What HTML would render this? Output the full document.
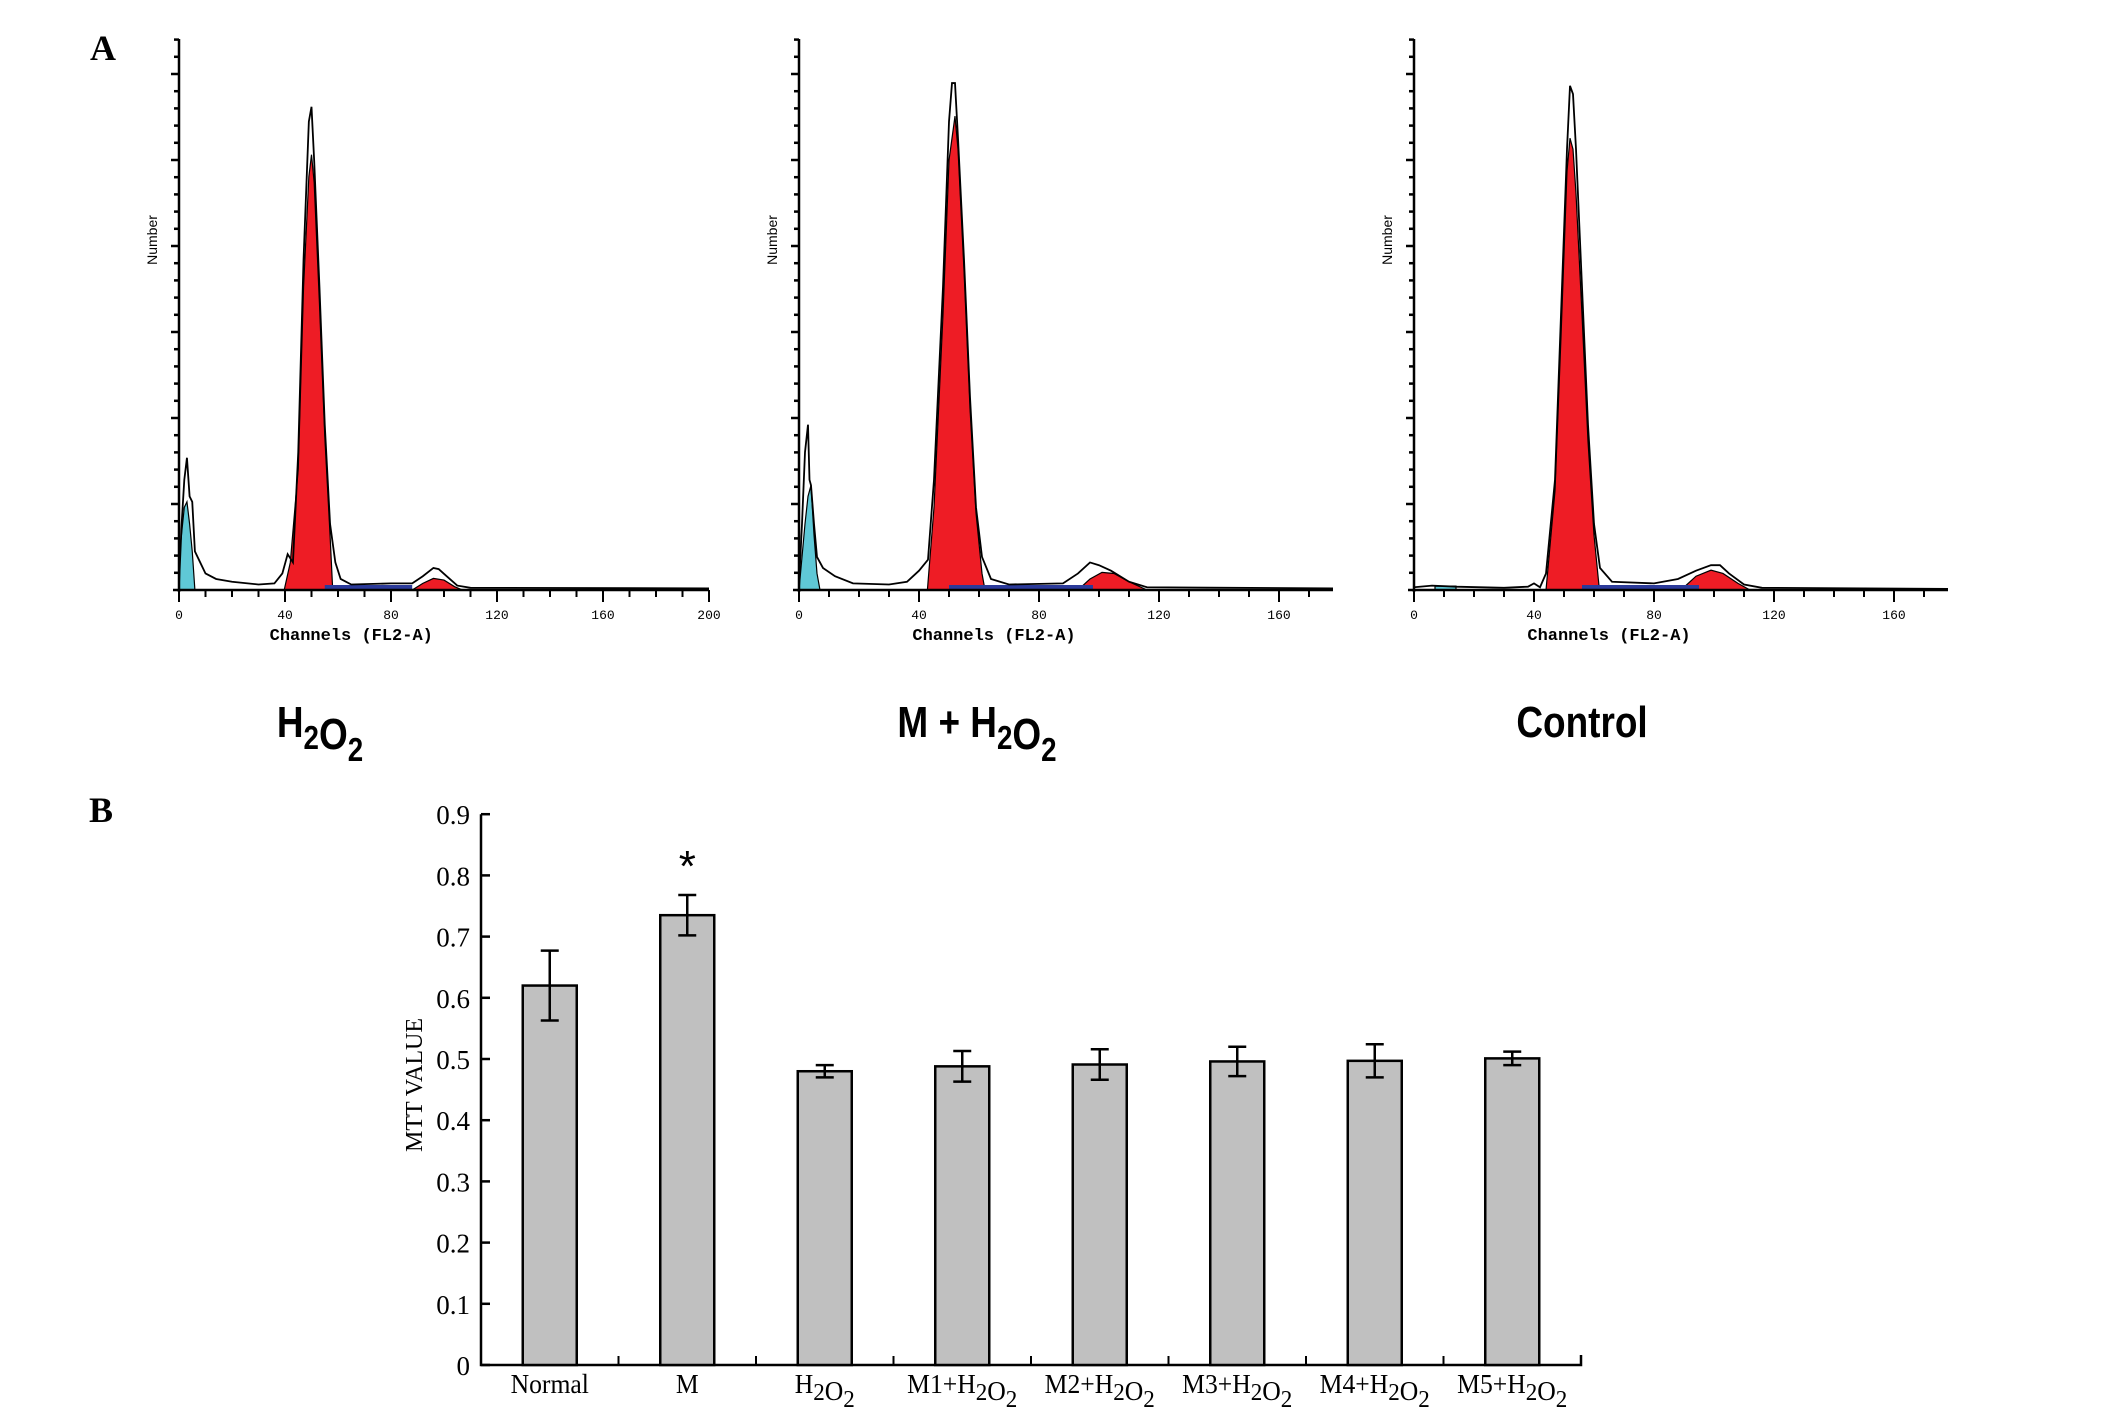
<!DOCTYPE html>
<html><head><meta charset="utf-8"><style>
html,body{margin:0;padding:0;background:#fff;}
svg{display:block;}
</style></head><body>
<svg id="fig" xmlns="http://www.w3.org/2000/svg" width="2126" height="1419" viewBox="0 0 2126 1419">
<rect width="2126" height="1419" fill="#fff"/>
<text x="90" y="60" font-family="Liberation Serif, serif" font-weight="bold" font-size="36">A</text>
<text x="89" y="822" font-family="Liberation Serif, serif" font-weight="bold" font-size="36">B</text>
<g id="hist"></g>
<g id="bars"></g>
</svg>
<script>
// ---------- Panel A data (channel, fraction of axis height) ----------
const h1Outline=[[0,0.01],[1,0.12],[2,0.2],[3,0.24],[4,0.17],[5,0.16],[6,0.07],[8,0.05],[10,0.03],[14,0.02],[20,0.015],[30,0.01],[36,0.012],[39,0.03],[41,0.065],[43,0.05],[45,0.25],[47,0.6],[49,0.85],[50,0.877],[51,0.78],[53,0.55],[55,0.3],[57,0.12],[59,0.05],[61,0.02],[65,0.01],[80,0.012],[88,0.012],[92,0.025],[96,0.04],[98,0.038],[101,0.025],[105,0.008],[110,0.004],[200,0.003]];
const h1G1=[[39.7,0],[42,0.05],[45,0.22],[47,0.55],[49,0.75],[50,0.79],[51,0.74],[53,0.52],[55,0.28],[57,0.1],[58,0],[58,0]];
const h1G2=[[88,0],[92,0.012],[96,0.021],[100,0.018],[104,0.006],[107,0]];
const h1Apo=[[0,0],[0.5,0.08],[2,0.15],[3,0.16],[4,0.12],[5,0.07],[6,0]];
const h1S=[55,88];
const h2Outline=[[0,0.01],[1,0.12],[2,0.25],[3,0.3],[3.5,0.2],[4,0.19],[5,0.12],[6,0.06],[8,0.04],[12,0.025],[18,0.012],[30,0.01],[36,0.015],[40,0.035],[43,0.055],[45,0.2],[48,0.55],[50,0.85],[51,0.92],[52,0.92],[53,0.82],[55,0.6],[57,0.35],[59,0.15],[61,0.06],[64,0.02],[70,0.01],[88,0.012],[93,0.03],[97,0.05],[100,0.045],[104,0.035],[110,0.015],[116,0.005],[178,0.003]];
const h2G1=[[42.8,0],[45,0.15],[48,0.5],[50,0.78],[52,0.86],[53,0.8],[55,0.58],[57,0.33],[59,0.14],[61,0.03],[62,0]];
const h2G2=[[93,0],[97,0.02],[101,0.032],[105,0.03],[110,0.015],[116,0]];
const h2Apo=[[0,0],[1,0.06],[2,0.12],[3,0.17],[4,0.19],[5,0.1],[6,0.03],[7,0]];
const h2S=[50,98];
const h3Outline=[[0,0.005],[6,0.008],[14,0.006],[30,0.004],[38,0.006],[40,0.012],[42,0.005],[44,0.03],[47,0.2],[49,0.5],[51,0.8],[52,0.915],[53,0.9],[54,0.8],[56,0.55],[58,0.3],[60,0.12],[62,0.04],[66,0.015],[80,0.012],[88,0.02],[94,0.035],[99,0.045],[102,0.045],[105,0.03],[110,0.01],[116,0.004],[178,0.002]];
const h3G1=[[44,0],[47,0.18],[49,0.46],[51,0.76],[52,0.82],[53,0.8],[54,0.72],[56,0.5],[58,0.27],[60,0.1],[61.8,0]];
const h3G2=[[89,0],[94,0.025],[99,0.036],[103,0.03],[108,0.012],[112,0]];
const h3Apo=[[7,0],[7,0.007],[14,0.007],[14,0]];
const h3S=[56,95];
const xTickLabels1=["0","40","80","120","160","200"];
const xTickLabels2=["0","40","80","120","160"];
const panelTitles=["H2O2","M + H2O2","Control"];

// ---------- Panel B data ----------
const categories=["Normal","M","H2O2","M1+H2O2","M2+H2O2","M3+H2O2","M4+H2O2","M5+H2O2"];
const mttValues=[0.62,0.735,0.48,0.488,0.491,0.496,0.497,0.501];
const mttErrors=[0.057,0.033,0.01,0.025,0.025,0.024,0.027,0.011];
const yTicks=[0,0.1,0.2,0.3,0.4,0.5,0.6,0.7,0.8,0.9];
const significant=[false,true,false,false,false,false,false,false];

const NS="http://www.w3.org/2000/svg";
function mk(tag,attrs,parent){const e=document.createElementNS(NS,tag);for(const k in attrs)e.setAttribute(k,attrs[k]);parent.appendChild(e);return e;}
function subText(parent,str,x,y,size,family,weight,anchor,subScale,subShift,extra){
  const a={x:x,y:y,'font-size':size,'font-family':family,'font-weight':weight,'text-anchor':anchor};
  if(extra)for(const k in extra)a[k]=extra[k];
  const t=mk('text',a,parent);
  let buf='';
  for(let i=0;i<str.length;i++){
    const ch=str[i];
    if(ch==='2' && i>0 && (str[i-1]==='H'||str[i-1]==='O')){
      if(buf){const ts=mk('tspan',{},t);ts.textContent=buf;buf='';}
      const s=mk('tspan',{'font-size':size*subScale,dy:subShift},t);s.textContent='2';
      const b=mk('tspan',{dy:-subShift},t);b.textContent='';
    } else buf+=ch;
  }
  if(buf){const ts=mk('tspan',{},t);ts.textContent=buf;}
  return t;
}

const H=document.getElementById('hist');
const panels=[
 {x0:179,ppc:2.65,right:709,maxCh:200,outline:h1Outline,g1:h1G1,g2:h1G2,apo:h1Apo,s:h1S,labels:xTickLabels1,title:0,tx:320},
 {x0:799,ppc:3.0,right:1333,maxCh:178,outline:h2Outline,g1:h2G1,g2:h2G2,apo:h2Apo,s:h2S,labels:xTickLabels2,title:1,tx:977},
 {x0:1414,ppc:3.0,right:1948,maxCh:178,outline:h3Outline,g1:h3G1,g2:h3G2,apo:h3Apo,s:h3S,labels:xTickLabels2,title:2,tx:1582}
];
const yTop=39, yBase=590, axH=551;
panels.forEach((p,i)=>{
  const g=mk('g',{},H);
  
  
  const X=c=>p.x0+c*p.ppc, Y=v=>yBase-v*axH;
  const poly=(arr,fill,name)=>{const pts=arr.map(a=>X(a[0])+','+Y(a[1])).join(' ');
    const e=mk('polygon',{points:pts+' '+X(arr[arr.length-1][0])+','+yBase+' '+X(arr[0][0])+','+yBase,fill:fill,stroke:'#000','stroke-width':1.2},g);
    };
  poly(p.apo,'#5fc8d6','sub-g1-fill');
  poly(p.g1,'#ee1c25','g1-peak-fill');
  poly(p.g2,'#ee1c25','g2-peak-fill');
  const sl=mk('line',{x1:X(p.s[0]),x2:X(p.s[1]),y1:yBase-3,y2:yBase-3,stroke:'#2b3a9a','stroke-width':4},g);
  
  const ol=mk('polyline',{points:p.outline.map(a=>X(a[0])+','+Y(a[1])).join(' '),fill:'none',stroke:'#000','stroke-width':1.8},g);
  
  const ax=mk('path',{d:`M${p.x0},${yTop}V${yBase+2}M${p.x0-6},${yBase}H${p.right}`,stroke:'#000','stroke-width':2.5,fill:'none'},g);
  
  for(let k=1;k*17<axH;k++){const yy=yBase-k*17.2;const L=(k%5===0)?8:5;
    mk('line',{x1:p.x0-L,x2:p.x0,y1:yy,y2:yy,stroke:'#000','stroke-width':2.5},g);}
  for(let c=0;c<=p.maxCh;c+=10){const L=(c%40===0)?12:7;
    mk('line',{x1:X(c),x2:X(c),y1:yBase,y2:yBase+L,stroke:'#000','stroke-width':2},g);}
  p.labels.forEach((lb,j)=>{const t=mk('text',{x:X(j*40),y:619,'font-size':13,'font-family':'Liberation Mono, monospace','text-anchor':'middle'},g);
    t.textContent=lb;});
  const xt=mk('text',{x:X(65),y:640,'font-size':17,'font-family':'Liberation Mono, monospace','font-weight':'bold','text-anchor':'middle'},g);
  xt.textContent='Channels (FL2-A)';
  const yt=mk('text',{x:0,y:0,'font-size':14,'font-family':'Liberation Sans, sans-serif','text-anchor':'middle',transform:`translate(${p.x0-22},240) rotate(-90)`},g);
  yt.textContent='Number';
  const tt=subText(g,panelTitles[p.title],0,0,44,'Liberation Sans, sans-serif','bold','middle',0.75,12,{transform:`translate(${p.tx},737) scale(0.84,1)`});
  
});

// ---------- bar chart ----------
const B=document.getElementById('bars');
const bx0=481,bx1=1581,by0=1365,pxPer=612;
const yS=v=>by0-v*pxPer;
const cw=(bx1-bx0)/categories.length;
const axis=mk('path',{d:`M${bx0},${yS(0.9)}V${by0}H${bx1}V${by0-10}`,stroke:'#000','stroke-width':2.5,fill:'none'},B);

yTicks.forEach(v=>{mk('line',{x1:bx0,x2:bx0+9,y1:yS(v),y2:yS(v),stroke:'#000','stroke-width':2.5},B);
  const t=mk('text',{x:470,y:yS(v)+10,'font-size':27,'font-family':'Liberation Serif, serif','text-anchor':'end'},B);
  t.textContent=String(v);});
for(let k=1;k<categories.length;k++){mk('line',{x1:bx0+k*cw,x2:bx0+k*cw,y1:by0,y2:by0-9,stroke:'#000','stroke-width':2},B);}
categories.forEach((c,i)=>{
  const cx=bx0+cw*(i+0.5),v=mttValues[i],e=mttErrors[i];
  const r=mk('rect',{x:cx-27,y:yS(v),width:54,height:by0-yS(v),fill:'#c0c0c0',stroke:'#000','stroke-width':2.5},B);
  
  const eb=mk('path',{d:`M${cx},${yS(v+e)}V${yS(v-e)}M${cx-9},${yS(v+e)}H${cx+9}M${cx-9},${yS(v-e)}H${cx+9}`,stroke:'#000','stroke-width':2.5,fill:'none'},B);
  
  const lt=subText(B,c,0,0,27,'Liberation Serif, serif','normal','middle',0.9,7,{transform:`translate(${cx},1393) scale(0.95,1)`});
  
  if(significant[i]){const s=mk('text',{x:cx,y:yS(v+e)-14,'font-size':44,'font-family':'Liberation Sans, sans-serif','text-anchor':'middle'},B);
    s.textContent='*';}
});
const yl=mk('text',{x:0,y:0,'font-size':24,'font-family':'Liberation Serif, serif','text-anchor':'middle',transform:`translate(422,1085) rotate(-90)`},B);
yl.textContent='MTT VALUE';
</script>
</body></html>
